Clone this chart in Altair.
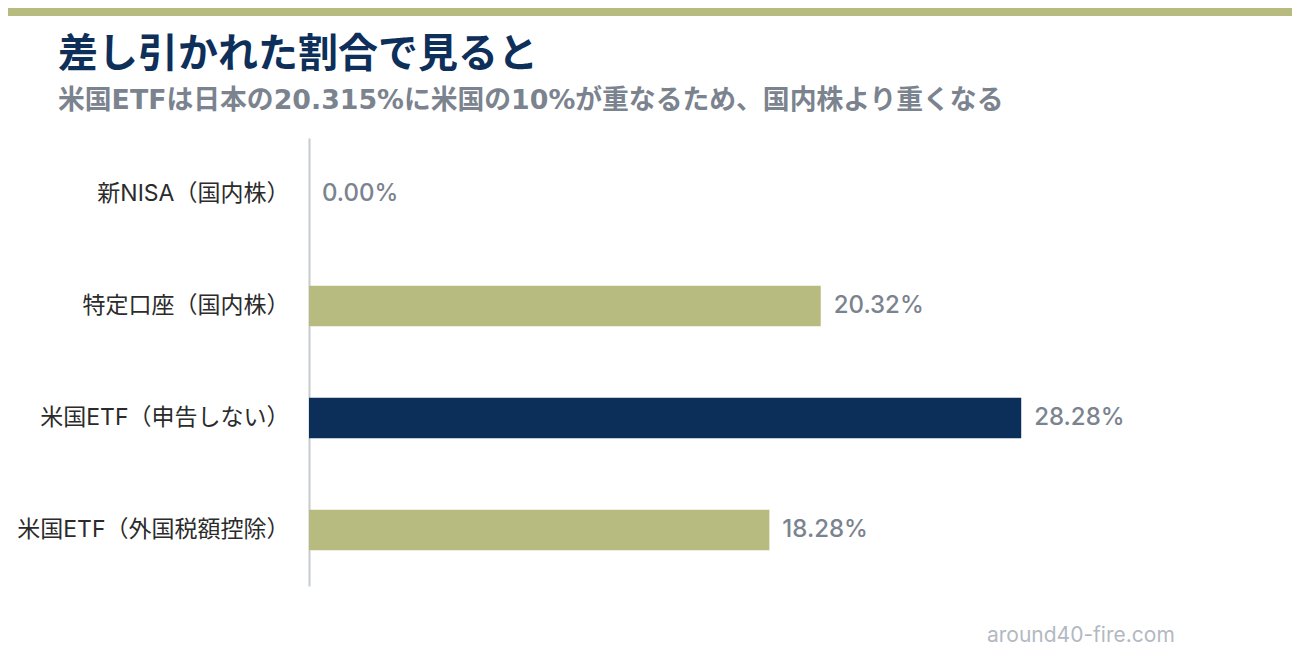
import altair as alt
import pandas as pd

categories = ["新NISA（国内株）", "特定口座（国内株）", "米国ETF（申告しない）", "米国ETF（外国税額控除）"]
values = [0.00, 20.32, 28.28, 18.28]
labels = ["0.00%", "20.32%", "28.28%", "18.28%"]
bar_colors = ["#b8bb7f", "#b8bb7f", "#0c2f5a", "#b8bb7f"]

title_text = "差し引かれた割合で見ると"
subtitle_text = "米国ETFは日本の20.315%に米国の10%が重なるため、国内株より重くなる"
watermark_text = "around40-fire.com"

df = pd.DataFrame({"cat": categories, "val": values, "label": labels, "color": bar_colors})

W, H = 957, 448
PL, PT, PR, PB = 301, 130, 26, 66
JP = "Noto Sans CJK JP"
MIX = "Inter, Noto Sans CJK JP"

y_enc = alt.Y(
    "cat:N",
    sort=categories,
    scale=alt.Scale(paddingInner=0.64, paddingOuter=0.32),
    axis=alt.Axis(
        title=None, ticks=False, grid=False,
        domainColor="#c6cbd2", domainWidth=2,
        labelFont=MIX, labelFontSize=23, labelColor="#2b2b2b",
        labelPadding=20, labelLimit=400,
    ),
)
x_enc = alt.X("val:Q", scale=alt.Scale(domain=[0, 38]), axis=None)

bars = alt.Chart(df).mark_bar().encode(
    x=x_enc, y=y_enc, color=alt.Color("color:N", scale=None)
)
vals = alt.Chart(df).mark_text(
    align="left", baseline="middle", dx=13,
    font="Inter", fontSize=24, fontWeight=500, color="#7b838f",
).encode(x=x_enc, y=alt.Y("cat:N", sort=categories), text="label:N")

one = alt.Data(values=[{"a": 1}])
stripe = alt.Chart(one).mark_rect(color="#b8bb7f").encode(
    x=alt.value(-PL), x2=alt.value(W + PR), y=alt.value(-PT), y2=alt.value(-PT + 8)
)
title = alt.Chart(one).mark_text(
    text=title_text, align="left", baseline="middle",
    font=JP, fontSize=40, fontWeight="bold", color="#0d2f5a",
).encode(x=alt.value(-251), y=alt.value(-83))
subtitle = alt.Chart(one).mark_text(
    text=subtitle_text, align="left", baseline="middle",
    font="DejaVu Sans, Noto Sans CJK JP", fontSize=26.8, fontWeight="bold", color="#7b838f",
).encode(x=alt.value(-251), y=alt.value(-37))
watermark = alt.Chart(one).mark_text(
    text=watermark_text, align="left", baseline="middle",
    font="Inter", fontSize=21, color="#b3b9c1",
).encode(x=alt.value(678), y=alt.value(498))

chart = alt.layer(stripe, bars, vals, title, subtitle, watermark).properties(
    width=W, height=H,
    padding={"left": PL, "top": PT, "right": PR, "bottom": PB},
    autosize="none",
).configure_view(stroke=None)

chart.save("out.html", embed_options={"renderer": "svg", "actions": False})
